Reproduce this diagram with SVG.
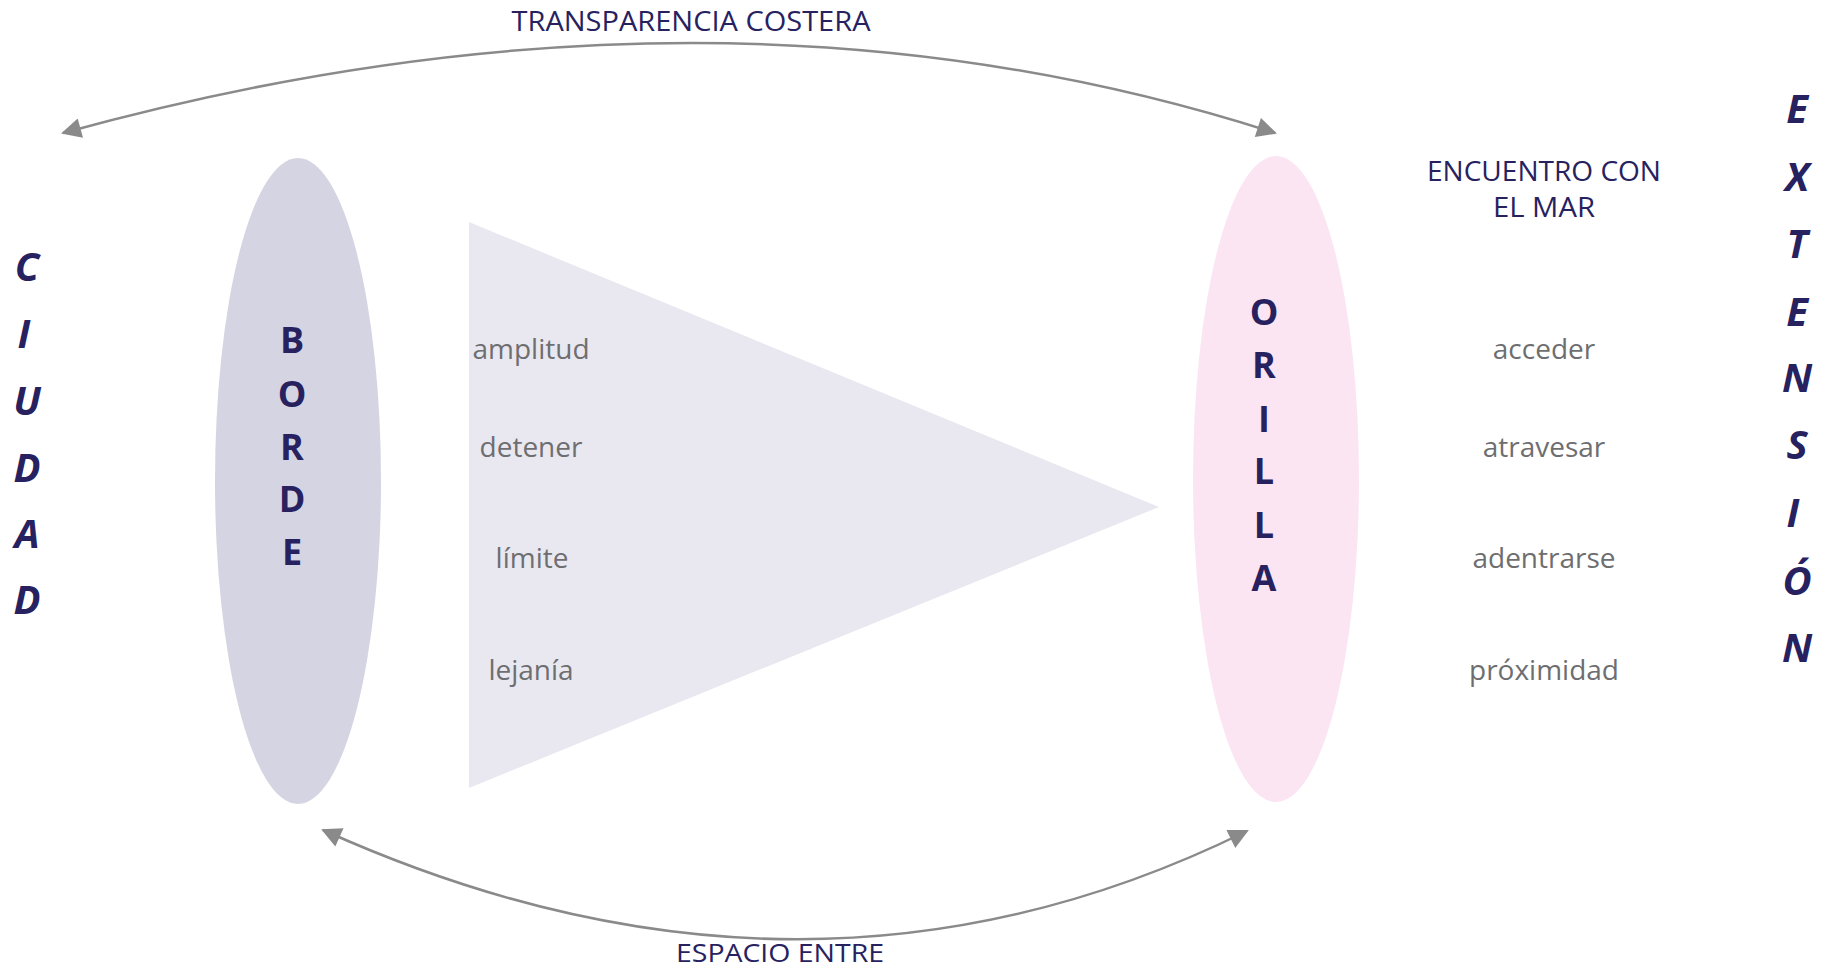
<svg xmlns="http://www.w3.org/2000/svg" width="1825" height="971" viewBox="0 0 1825 971">
<defs>
<style>
.navy{fill:#27225f;font-family:"Open Sans","Liberation Sans",sans-serif}
.cap{font-size:36px;font-weight:700;text-anchor:middle}
.side{font-size:40px;font-weight:700;font-style:italic;text-anchor:middle}
.lbl{font-size:27px;text-anchor:middle}
.word{fill:#6e6e70;font-family:"Open Sans","Liberation Sans",sans-serif;font-size:28px;text-anchor:middle}
.conn{fill:none;stroke:#8a8a8a;stroke-width:2.5}
</style>
<marker id="ah" viewBox="0 0 10 10" refX="9" refY="5" markerWidth="9" markerHeight="8" markerUnits="strokeWidth" orient="auto-start-reverse">
<path d="M0,0 L10,5 L0,10 z" fill="#8a8a8a"/>
</marker>
</defs>
<rect width="1825" height="971" fill="#ffffff"/>
<g id="triangle">
<polygon points="469,222 469,788 1159,507" fill="#e9e8f0"/>
</g>
<g id="borde">
<ellipse cx="298" cy="481" rx="83" ry="323" fill="#d5d4e2"/>
<text class="navy cap" x="292" y="353">B</text>
<text class="navy cap" x="292" y="407">O</text>
<text class="navy cap" x="292" y="460">R</text>
<text class="navy cap" x="292" y="512">D</text>
<text class="navy cap" x="292" y="565">E</text>
</g>
<g id="orilla">
<ellipse cx="1276" cy="479" rx="83" ry="323" fill="#fbe5f2"/>
<text class="navy cap" x="1264" y="325">O</text>
<text class="navy cap" x="1264" y="378">R</text>
<text class="navy cap" x="1264" y="432">I</text>
<text class="navy cap" x="1264" y="484">L</text>
<text class="navy cap" x="1264" y="538">L</text>
<text class="navy cap" x="1264" y="591">A</text>
</g>
<g id="ciudad">
<text class="navy side" x="27" y="281">C</text>
<text class="navy side" x="24" y="348">I</text>
<text class="navy side" x="27" y="415">U</text>
<text class="navy side" x="27" y="482">D</text>
<text class="navy side" x="27" y="548">A</text>
<text class="navy side" x="27" y="614">D</text>
</g>
<g id="extension">
<text class="navy side" x="1797" y="123">E</text>
<text class="navy side" x="1797" y="191">X</text>
<text class="navy side" x="1797" y="258">T</text>
<text class="navy side" x="1797" y="326">E</text>
<text class="navy side" x="1797" y="392">N</text>
<text class="navy side" x="1797" y="459">S</text>
<text class="navy side" x="1793" y="527">I</text>
<text class="navy side" x="1797" y="595">Ó</text>
<text class="navy side" x="1797" y="662">N</text>
</g>
<g id="left-words">
<text class="word" x="531" y="359">amplitud</text>
<text class="word" x="531" y="457">detener</text>
<text class="word" x="532" y="568">límite</text>
<text class="word" x="531" y="680">lejanía</text>
</g>
<g id="right-words">
<text class="word" x="1544" y="359">acceder</text>
<text class="word" x="1544" y="457">atravesar</text>
<text class="word" x="1544" y="568">adentrarse</text>
<text class="word" x="1544" y="680">próximidad</text>
</g>
<g id="encuentro">
<text class="navy lbl" x="1544" y="181" textLength="234" lengthAdjust="spacingAndGlyphs">ENCUENTRO CON</text>
<text class="navy lbl" x="1544" y="217" textLength="102" lengthAdjust="spacingAndGlyphs">EL MAR</text>
</g>
<g id="connectors">
<path class="conn" d="M63,133 Q715,-47 1275,133" marker-start="url(#ah)" marker-end="url(#ah)"/>
<path class="conn" d="M323,830 Q807,1048 1247,831" marker-start="url(#ah)" marker-end="url(#ah)"/>
<text class="navy lbl" x="691" y="31" textLength="359" lengthAdjust="spacingAndGlyphs">TRANSPARENCIA COSTERA</text>
<text class="navy" x="780" y="962" font-size="26" text-anchor="middle" textLength="208" lengthAdjust="spacingAndGlyphs">ESPACIO ENTRE</text>
</g>
</svg>
